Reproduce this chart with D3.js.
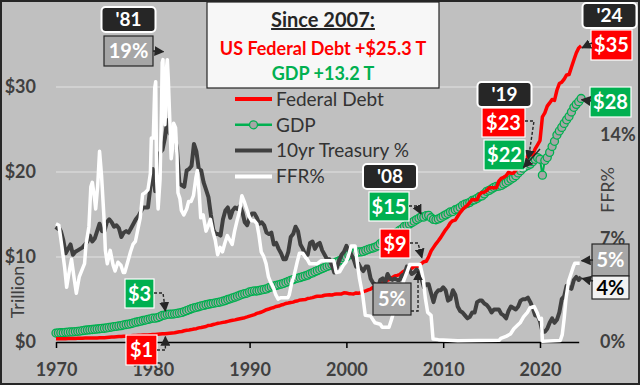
<!DOCTYPE html>
<html>
<head>
<meta charset="utf-8">
<script src="https://cdn.jsdelivr.net/npm/d3@7"></script>
<style>
  body { margin: 0; background: #fff; }
  svg { display: block; font-family: Lato, "Open Sans", sans-serif; }
  .axis text { fill: #404040; font-size: 18px; font-weight: 700; font-family: Lato, sans-serif; }
  .axis .domain { stroke: #000; stroke-width: 1.5; }
  .axis .tick line { stroke: #000; stroke-width: 1.5; }
</style>
</head>
<body>
<div id="chart"></div>
<script>
// quarterly series, first value = 1970 Q1
const startYear = 1970;
const debt = [
  0.37, 0.37, 0.38, 0.39, 0.39, 0.40, 0.41, 0.42, 0.42, 0.43, 0.44, 0.45,
  0.46, 0.46, 0.47, 0.47, 0.48, 0.48, 0.49, 0.49, 0.51, 0.54, 0.56, 0.58,
  0.60, 0.62, 0.64, 0.65, 0.68, 0.69, 0.71, 0.73, 0.76, 0.77, 0.78, 0.79,
  0.81, 0.81, 0.83, 0.85, 0.87, 0.88, 0.91, 0.94, 0.96, 0.97, 1.00, 1.03,
  1.06, 1.08, 1.14, 1.20, 1.24, 1.32, 1.38, 1.41, 1.46, 1.52, 1.57, 1.66,
  1.71, 1.77, 1.82, 1.95, 1.97, 2.06, 2.13, 2.21, 2.25, 2.31, 2.35, 2.43,
  2.49, 2.55, 2.60, 2.68, 2.74, 2.80, 2.86, 2.95, 3.05, 3.14, 3.23, 3.36,
  3.44, 3.53, 3.67, 3.80, 3.88, 3.98, 4.06, 4.18, 4.23, 4.35, 4.41, 4.54,
  4.58, 4.65, 4.69, 4.80, 4.86, 4.95, 4.97, 4.99, 5.12, 5.16, 5.22, 5.32,
  5.38, 5.38, 5.41, 5.50, 5.54, 5.55, 5.53, 5.61, 5.65, 5.64, 5.66, 5.78,
  5.77, 5.69, 5.67, 5.66, 5.77, 5.73, 5.81, 5.94, 6.01, 6.13, 6.23, 6.41,
  6.46, 6.67, 6.78, 7.00, 7.13, 7.27, 7.38, 7.60, 7.78, 7.84, 7.93, 8.17,
  8.37, 8.42, 8.51, 8.68, 8.85, 8.87, 9.01, 9.23, 9.44, 9.49, 10.02, 10.70,
  11.13, 11.55, 11.91, 12.31, 12.77, 13.20, 13.56, 14.03, 14.27, 14.34, 14.79, 15.22,
  15.58, 15.86, 16.07, 16.43, 16.77, 16.74, 16.74, 17.35, 17.60, 17.63, 17.82, 18.14,
  18.15, 18.15, 18.15, 18.92, 19.26, 19.38, 19.57, 19.98, 19.85, 19.84, 20.24, 20.49,
  21.09, 21.20, 21.52, 21.97, 22.03, 22.02, 22.72, 23.20, 23.69, 26.48, 26.95, 27.75,
  28.13, 28.53, 28.43, 29.62, 30.40, 30.57, 30.93, 31.42, 31.46, 32.33, 33.17, 34.00,
  34.59, 34.83
];
const gdp = [
  1.05, 1.07, 1.09, 1.09, 1.14, 1.16, 1.18, 1.19, 1.23, 1.26, 1.29, 1.33,
  1.38, 1.41, 1.44, 1.47, 1.50, 1.53, 1.56, 1.60, 1.62, 1.66, 1.71, 1.76,
  1.82, 1.85, 1.89, 1.93, 2.01, 2.06, 2.10, 2.16, 2.25, 2.33, 2.38, 2.45,
  2.53, 2.58, 2.66, 2.73, 2.80, 2.80, 2.86, 2.98, 3.13, 3.17, 3.26, 3.27,
  3.28, 3.32, 3.36, 3.42, 3.48, 3.58, 3.69, 3.80, 3.91, 4.01, 4.08, 4.15,
  4.24, 4.30, 4.38, 4.44, 4.50, 4.55, 4.61, 4.66, 4.72, 4.80, 4.88, 5.00,
  5.08, 5.19, 5.28, 5.39, 5.50, 5.61, 5.69, 5.76, 5.89, 5.96, 6.01, 6.00,
  6.06, 6.13, 6.19, 6.25, 6.38, 6.48, 6.57, 6.66, 6.73, 6.81, 6.89, 7.01,
  7.12, 7.24, 7.34, 7.45, 7.52, 7.59, 7.68, 7.77, 7.87, 8.02, 8.13, 8.27,
  8.39, 8.52, 8.64, 8.76, 8.89, 8.99, 9.11, 9.27, 9.41, 9.53, 9.69, 9.90,
  10.00, 10.25, 10.32, 10.44, 10.47, 10.60, 10.60, 10.66, 10.78, 10.89, 10.99, 11.06,
  11.17, 11.31, 11.57, 11.77, 11.92, 12.12, 12.30, 12.52, 12.76, 12.92, 13.14, 13.32,
  13.60, 13.75, 13.87, 14.04, 14.22, 14.40, 14.56, 14.72, 14.70, 14.86, 14.90, 14.62,
  14.43, 14.38, 14.48, 14.62, 14.80, 14.96, 15.12, 15.31, 15.35, 15.56, 15.65, 15.84,
  16.07, 16.21, 16.30, 16.43, 16.65, 16.73, 16.90, 17.09, 17.19, 17.43, 17.72, 17.84,
  18.01, 18.19, 18.30, 18.33, 18.42, 18.59, 18.76, 18.95, 19.15, 19.32, 19.56, 19.89,
  20.16, 20.45, 20.65, 20.77, 20.93, 21.22, 21.49, 21.69, 21.50, 19.63, 21.36, 21.70,
  22.31, 23.00, 23.61, 24.35, 24.83, 25.25, 25.72, 26.14, 26.53, 27.06, 27.61, 27.96,
  28.27, 28.65
];
const tenYear = [
  7.6, 7.8, 7.5, 6.9, 6.0, 6.3, 6.6, 5.9, 6.1, 6.2, 6.3, 6.4,
  6.6, 6.8, 7.2, 6.8, 7.0, 7.5, 8.0, 7.5, 7.5, 8.1, 8.3, 8.1,
  7.8, 7.9, 7.7, 7.1, 7.4, 7.5, 7.4, 7.7, 8.0, 8.3, 8.5, 8.8,
  9.1, 9.1, 9.1, 10.5, 11.7, 10.2, 11.0, 12.8, 13.0, 13.8, 15.0, 14.1,
  14.3, 13.9, 13.1, 10.7, 10.6, 10.5, 11.6, 11.7, 11.9, 13.4, 12.9, 11.7,
  11.6, 10.8, 10.3, 9.8, 8.6, 7.6, 7.3, 7.3, 7.2, 8.3, 8.9, 9.1,
  8.4, 8.9, 9.1, 9.0, 9.2, 8.8, 8.1, 7.9, 8.4, 8.7, 8.7, 8.4,
  8.0, 8.1, 7.9, 7.4, 7.3, 7.4, 6.6, 6.7, 6.3, 6.0, 5.6, 5.6,
  6.1, 7.1, 7.3, 7.8, 7.5, 6.6, 6.3, 5.9, 5.9, 6.7, 6.8, 6.3,
  6.6, 6.7, 6.2, 5.9, 5.6, 5.6, 5.2, 4.7, 5.0, 5.5, 5.9, 6.1,
  6.5, 6.2, 5.9, 5.6, 5.1, 5.3, 5.0, 4.8, 5.1, 5.1, 4.3, 4.0,
  3.9, 3.6, 4.2, 4.3, 4.0, 4.6, 4.3, 4.2, 4.3, 4.2, 4.2, 4.5,
  4.6, 5.1, 4.9, 4.6, 4.7, 4.9, 4.7, 4.3, 3.7, 3.9, 3.9, 3.3,
  2.7, 3.3, 3.5, 3.5, 3.7, 3.5, 2.8, 2.9, 3.5, 3.2, 2.4, 2.1,
  2.0, 1.8, 1.6, 1.7, 2.0, 2.0, 2.7, 2.8, 2.8, 2.6, 2.5, 2.3,
  2.0, 2.2, 2.2, 2.2, 1.9, 1.8, 1.6, 2.1, 2.4, 2.3, 2.2, 2.4,
  2.8, 2.9, 2.9, 3.0, 2.7, 2.3, 1.8, 1.8, 1.4, 0.7, 0.7, 0.9,
  1.3, 1.6, 1.3, 1.5, 2.0, 2.9, 3.1, 3.8, 3.7, 3.6, 4.2, 4.4,
  4.2, 4.4
];
// fed funds rate: [year, %], denser where it spikes
const ffr = [
  [1970.0, 8.0], [1970.3, 7.9], [1970.6, 6.5], [1970.9, 5.0], [1971.1, 3.7], [1971.4, 4.9],
  [1971.6, 5.6], [1971.9, 4.2], [1972.1, 3.3], [1972.4, 4.4], [1972.7, 4.9], [1972.95, 5.3],
  [1973.1, 6.6], [1973.4, 7.8], [1973.6, 10.5], [1973.75, 10.8], [1973.95, 9.9],
  [1974.1, 9.0], [1974.3, 10.5], [1974.5, 12.9], [1974.7, 11.3], [1974.95, 8.5],
  [1975.1, 6.2], [1975.3, 5.3], [1975.6, 6.2], [1975.9, 5.2], [1976.1, 4.8], [1976.4, 5.4],
  [1976.7, 5.2], [1976.95, 4.7], [1977.1, 4.7], [1977.4, 5.4], [1977.7, 6.1], [1977.95, 6.6],
  [1978.2, 6.8], [1978.45, 7.6], [1978.7, 8.4], [1978.95, 10.0], [1979.2, 10.1], [1979.5, 10.3],
  [1979.75, 11.4], [1979.85, 13.8], [1979.95, 13.8], [1980.05, 13.8], [1980.2, 17.2],
  [1980.3, 17.6], [1980.4, 11.0], [1980.55, 9.0], [1980.75, 11.0], [1980.9, 15.8],
  [1980.97, 18.9], [1981.05, 19.1], [1981.15, 15.9], [1981.25, 14.7], [1981.33, 15.7],
  [1981.42, 18.5], [1981.5, 19.1], [1981.6, 17.8], [1981.75, 15.1], [1981.9, 12.4],
  [1982.05, 13.2], [1982.15, 14.8], [1982.35, 14.5], [1982.5, 12.6], [1982.6, 10.1],
  [1982.8, 9.7], [1982.95, 8.9], [1983.2, 8.6], [1983.5, 9.0], [1983.7, 9.5], [1983.95, 9.5],
  [1984.2, 9.9], [1984.45, 11.1], [1984.6, 11.6], [1984.8, 10.0], [1984.95, 8.4],
  [1985.2, 8.6], [1985.5, 7.5], [1985.75, 7.9], [1985.95, 8.3], [1986.2, 7.5], [1986.45, 6.9],
  [1986.7, 5.9], [1986.95, 6.4], [1987.2, 6.1], [1987.45, 6.7], [1987.7, 7.2], [1987.95, 6.9],
  [1988.2, 6.6], [1988.45, 7.5], [1988.7, 8.2], [1988.95, 8.8], [1989.2, 9.9], [1989.45, 9.5],
  [1989.7, 9.0], [1989.95, 8.5], [1990.2, 8.2], [1990.5, 8.2], [1990.75, 8.0], [1990.95, 7.3],
  [1991.2, 6.1], [1991.45, 5.8], [1991.7, 5.3], [1991.95, 4.4], [1992.2, 4.0], [1992.45, 3.7],
  [1992.7, 3.2], [1992.95, 2.9], [1993.2, 3.0], [1993.5, 3.0], [1993.75, 3.0], [1993.95, 3.0],
  [1994.1, 3.2], [1994.35, 4.0], [1994.6, 4.5], [1994.95, 5.5], [1995.15, 6.0], [1995.5, 6.0],
  [1995.8, 5.7], [1995.95, 5.6], [1996.2, 5.3], [1997.0, 5.3], [1997.4, 5.5], [1998.0, 5.5],
  [1998.7, 5.5], [1998.95, 4.7], [1999.3, 4.75], [1999.7, 5.2], [1999.95, 5.4], [2000.2, 5.8],
  [2000.5, 6.5], [2000.9, 6.5], [2001.1, 5.5], [2001.35, 4.3], [2001.7, 3.1], [2001.95, 1.8],
  [2002.5, 1.75], [2002.95, 1.3], [2003.5, 1.2], [2003.7, 1.0], [2004.4, 1.0], [2004.7, 1.6],
  [2004.95, 2.2], [2005.3, 2.8], [2005.7, 3.6], [2005.95, 4.2], [2006.3, 4.8], [2006.55, 5.25],
  [2007.6, 5.25], [2007.8, 4.7], [2007.95, 4.2], [2008.15, 3.0], [2008.4, 2.0], [2008.75, 1.8],
  [2008.95, 0.2], [2009.5, 0.16], [2011.5, 0.09], [2013.5, 0.1], [2015.8, 0.12], [2015.95, 0.24],
  [2016.5, 0.38], [2016.95, 0.54], [2017.3, 0.9], [2017.7, 1.15], [2017.95, 1.3], [2018.3, 1.7],
  [2018.7, 2.0], [2018.95, 2.3], [2019.4, 2.4], [2019.7, 2.0], [2019.95, 1.55], [2020.15, 1.6],
  [2020.25, 0.05], [2021.5, 0.08], [2022.1, 0.1], [2022.3, 0.5], [2022.5, 1.6], [2022.7, 3.0],
  [2022.95, 4.1], [2023.2, 4.6], [2023.45, 5.1], [2023.6, 5.33], [2024.1, 5.33]
];
const decadeTicks = [1970, 1980, 1990, 2000, 2010, 2020];
const dollarTicks = [0, 10, 20, 30];
const gridTicks = [10, 20, 30];
const rateTicks = [0, 7, 14];
const legendItems = ["Federal Debt", "GDP", "10yr Treasury %", "FFR%"];
const headline = ["Since 2007:", "US Federal Debt +$25.3 T", "GDP +13.2 T"];

const width = 640, height = 385;
const toQuarterly = arr => arr.map((v, i) => ({ t: startYear + i / 4, v }));

const svg = d3.select("#chart").append("svg")
  .attr("width", width).attr("height", height);

svg.append("rect").attr("width", width).attr("height", height).attr("fill", "#c0c0c0");

const x = d3.scaleLinear().domain([1970, 2024]).range([56, 578.7]);
const yL = d3.scaleLinear().domain([0, 40]).range([342, 2]);
const yR = d3.scaleLinear().domain([0, 23]).range([342, 2]);

// arrow head
svg.append("defs").append("marker")
  .attr("id", "arrow")
  .attr("viewBox", "0 0 10 10")
  .attr("refX", 9).attr("refY", 5)
  .attr("markerUnits", "userSpaceOnUse")
  .attr("markerWidth", 10).attr("markerHeight", 10)
  .attr("orient", "auto")
  .append("path").attr("d", "M0,0L10,5L0,10Z").attr("fill", "#262626");

// gridlines
svg.append("g").selectAll("line").data(gridTicks).join("line")
  .attr("x1", 56).attr("x2", 580)
  .attr("y1", d => yL(d)).attr("y2", d => yL(d))
  .attr("stroke", "#e2e2e2").attr("stroke-width", 1);

// axes
svg.append("g").attr("class", "axis")
  .attr("transform", `translate(0,${yL(0)})`)
  .call(d3.axisBottom(x).tickValues(decadeTicks).tickFormat(d3.format("d"))
    .tickSize(6).tickSizeOuter(0).tickPadding(15));

svg.append("g").attr("class", "axis")
  .attr("transform", "translate(39,0)")
  .call(d3.axisLeft(yL).tickValues(dollarTicks).tickFormat(d => "$" + d).tickSize(0).tickPadding(3))
  .call(g => g.select(".domain").remove());

svg.append("g").attr("class", "axis")
  .attr("transform", "translate(597,0)")
  .call(d3.axisRight(yR).tickValues(rateTicks).tickFormat(d => d + "%").tickSize(0).tickPadding(3))
  .call(g => g.select(".domain").remove());

svg.append("text").attr("transform", "translate(24,292) rotate(-90)")
  .attr("text-anchor", "middle").attr("fill", "#404040")
  .attr("font-size", 18).text("Trillion");
svg.append("text").attr("transform", "translate(614,190) rotate(-90)")
  .attr("text-anchor", "middle").attr("fill", "#404040")
  .attr("font-size", 18).text("FFR%");

// series
const lineL = d3.line().x(d => x(d.t)).y(d => yL(d.v));
const lineR = d3.line().x(d => x(d.t)).y(d => yR(d.v));
const gdpData = toQuarterly(gdp);

svg.append("path").datum(gdpData).attr("d", lineL)
  .attr("fill", "none").attr("stroke", "#00b050").attr("stroke-width", 2);
svg.append("g").selectAll("circle").data(gdpData).join("circle")
  .attr("cx", d => x(d.t)).attr("cy", d => yL(d.v)).attr("r", 4)
  .attr("fill", "#a6a6a6").attr("stroke", "#00b050").attr("stroke-width", 1.3);

svg.append("path").datum(toQuarterly(debt)).attr("d", lineL)
  .attr("fill", "none").attr("stroke", "#ff0000").attr("stroke-width", 3.5)
  .attr("stroke-linejoin", "round");

svg.append("path").datum(toQuarterly(tenYear)).attr("d", lineR)
  .attr("fill", "none").attr("stroke", "#404040").attr("stroke-width", 4)
  .attr("stroke-linejoin", "round");

svg.append("path").datum(ffr.map(([t, v]) => ({ t, v }))).attr("d", lineR)
  .attr("fill", "none").attr("stroke", "#ffffff").attr("stroke-width", 3.5)
  .attr("stroke-linejoin", "round");

// headline box
const head = svg.append("g");
head.append("rect").attr("x", 207).attr("y", 2).attr("width", 232).attr("height", 86)
  .attr("fill", "#f7f7f7").attr("stroke", "#262626").attr("stroke-width", 1.2);
head.append("text").attr("x", 323).attr("y", 27).attr("text-anchor", "middle")
  .attr("font-size", 20).attr("font-weight", 700).attr("fill", "#262626")
  .attr("text-decoration", "underline").text(headline[0]);
head.append("text").attr("x", 323).attr("y", 55).attr("text-anchor", "middle")
  .attr("font-size", 18).attr("font-weight", 700).attr("fill", "#ff0000").text(headline[1]);
head.append("text").attr("x", 323).attr("y", 80).attr("text-anchor", "middle")
  .attr("font-size", 18).attr("font-weight", 700).attr("fill", "#00b050").text(headline[2]);

// legend
const legendColors = ["#ff0000", "#00b050", "#404040", "#ffffff"];
const legend = svg.append("g").selectAll("g").data(legendItems).join("g")
  .attr("transform", (d, i) => `translate(235,${99 + i * 25.8})`);
legend.append("line").attr("x1", 0).attr("x2", 37)
  .attr("stroke", (d, i) => legendColors[i]).attr("stroke-width", (d, i) => i === 1 ? 2.5 : 4);
legend.filter((d, i) => i === 1).append("circle").attr("cx", 18.5).attr("r", 4)
  .attr("fill", "#a6a6a6").attr("stroke", "#00b050").attr("stroke-width", 1.3);
legend.append("text").attr("x", 41).attr("dy", "0.36em")
  .attr("font-size", 19).attr("fill", "#333").text(d => d);

// callouts
const notes = svg.append("g");
function yearTag(cx, y, label) {
  notes.append("rect").attr("x", cx - 27).attr("y", y).attr("width", 54).attr("height", 25)
    .attr("rx", 4).attr("fill", "#262626").attr("stroke", "#fff").attr("stroke-width", 2);
  notes.append("text").attr("x", cx).attr("y", y + 19).attr("text-anchor", "middle")
    .attr("font-size", 19).attr("font-weight", 700).attr("fill", "#fff").text(label);
}
function valueTag(x0, y0, w, h, fill, stroke, color, label) {
  notes.append("rect").attr("x", x0).attr("y", y0).attr("width", w).attr("height", h)
    .attr("fill", fill).attr("stroke", stroke).attr("stroke-width", 1.2);
  notes.append("text").attr("x", x0 + w / 2).attr("y", y0 + h / 2).attr("dy", "0.36em")
    .attr("text-anchor", "middle").attr("font-size", 20).attr("font-weight", 700)
    .attr("fill", color).text(label);
}
function pointer(pts, dashed) {
  notes.append("path").attr("d", d3.line()(pts))
    .attr("fill", "none").attr("stroke", "#262626").attr("stroke-width", 1.4)
    .attr("stroke-dasharray", dashed ? "3,2" : null)
    .attr("marker-end", "url(#arrow)");
}

// 1981
yearTag(128.5, 7, "'81");
valueTag(104, 36, 49, 30, "#a6a6a6", "#262626", "#fff", "19%");
pointer([[153, 51], [x(1981.1), yR(19.1) - 8]], true);
valueTag(125, 279, 29, 29, "#00b050", "#fff", "#fff", "$3");
pointer([[154, 293], [163, 293], [x(1981.3), yL(gdp[45]) - 4]], true);
valueTag(126, 335, 31, 30, "#ff0000", "#fff", "#fff", "$1");
pointer([[157, 350], [x(1981.3), 350], [x(1981.3), yL(debt[45]) + 3]], true);

// 2008
yearTag(390, 164, "'08");
valueTag(369, 192, 40, 29, "#00b050", "#fff", "#fff", "$15");
pointer([[409, 206], [417, 206], [x(2007.7), yL(gdp[151]) - 3]], true);
valueTag(380, 229, 30, 29, "#ff0000", "#fff", "#fff", "$9");
pointer([[410, 243], [418, 243], [x(2007.8), yL(debt[152]) - 4]], true);
valueTag(373, 283, 38, 32, "#a6a6a6", "#262626", "#fff", "5%");
pointer([[411, 311], [x(2007.4), 311], [x(2007.4), yR(5.25) + 7]], true);

// 2019
yearTag(504.5, 82, "'19");
valueTag(482, 108, 43, 29, "#ff0000", "#fff", "#fff", "$23");
pointer([[525, 121], [534, 121], [x(2018.8), yL(debt[195]) + 4]], true);
valueTag(484, 140, 41, 30, "#00b050", "#fff", "#fff", "$22");
pointer([[540, 149], [x(2018.3), yL(gdp[195]) + 2]], false);

// 2024
yearTag(609.5, 3, "'24");
valueTag(591, 30, 41, 30, "#ff0000", "#fff", "#fff", "$35");
pointer([[592, 43], [x(2024.35), yL(34.6)]], false);
valueTag(590, 87, 41, 30, "#00b050", "#fff", "#fff", "$28");
pointer([[591, 101], [x(2024.3), yL(28.5)]], false);
valueTag(592, 244, 37, 32, "#a6a6a6", "#262626", "#fff", "5%");
pointer([[593, 260], [x(2024.3), yR(5.5)]], false);
valueTag(592, 276, 37, 23, "#f2f2f2", "#262626", "#000", "4%");
pointer([[593, 281], [x(2024.35), yR(4.3)]], false);

// frame
svg.append("rect").attr("x", 1).attr("y", 1).attr("width", width - 2).attr("height", height - 2)
  .attr("fill", "none").attr("stroke", "#262626").attr("stroke-width", 2);
</script>
</body>
</html>
